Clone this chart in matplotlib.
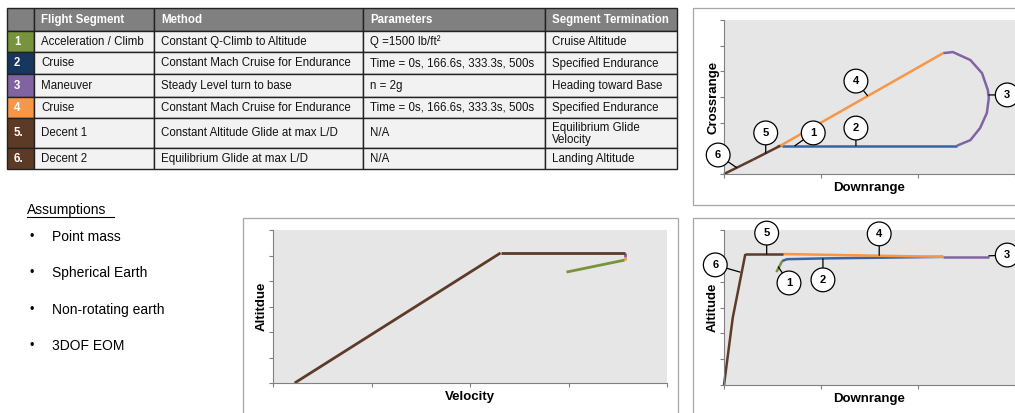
import matplotlib

matplotlib.use("Agg")
import matplotlib.pyplot as plt  # noqa: E402
from matplotlib.patches import Rectangle  # noqa: E402

plt.rcParams["font.family"] = ["Liberation Sans", "DejaVu Sans"]

W, H = 1015, 413

# ---- table data ----
table_header = ["", "Flight Segment", "Method", "Parameters", "Segment Termination"]
seg_numbers = ["1", "2", "3", "4", "5.", "6."]
seg_names = ["Acceleration / Climb", "Cruise", "Maneuver", "Cruise", "Decent 1", "Decent 2"]
seg_methods = [
    "Constant Q-Climb to Altitude",
    "Constant Mach Cruise for Endurance",
    "Steady Level turn to base",
    "Constant Mach Cruise for Endurance",
    "Constant Altitude Glide at max L/D",
    "Equilibrium Glide at max L/D",
]
seg_params = [
    "Q =1500 lb/ft²",
    "Time = 0s, 166.6s, 333.3s, 500s",
    "n = 2g",
    "Time = 0s, 166.6s, 333.3s, 500s",
    "N/A",
    "N/A",
]
seg_terms = [
    "Cruise Altitude",
    "Specified Endurance",
    "Heading toward Base",
    "Specified Endurance",
    "Equilibrium Glide\nVelocity",
    "Landing Altitude",
]
seg_colors = ["#77933c", "#17375e", "#8064a2", "#f79646", "#5c3a26", "#5c3a26"]
line_colors = ["#77933c", "#3a64a0", "#8064a2", "#f79646", "#5e3b29", "#5e3b29"]

assumptions = ["Point mass", "Spherical Earth", "Non-rotating earth", "3DOF EOM"]

# ---- ground track (crossrange vs downrange), segments 1..6 ----
ground_x = [
    [0.55, 0.60],
    [0.60, 2.40],
    [2.40, 2.54, 2.64, 2.71, 2.73, 2.72, 2.66, 2.54, 2.36, 2.26],
    [2.26, 0.58],
    [0.58, 0.30],
    [0.30, 0.0],
]
ground_y = [
    [1.08, 1.10],
    [1.10, 1.10],
    [1.10, 1.32, 1.79, 2.38, 2.96, 3.27, 3.93, 4.44, 4.75, 4.71],
    [4.71, 1.10],
    [1.10, 0.56],
    [0.56, 0.0],
]

# ---- altitude vs downrange ----
alt_x = [
    [0.54, 0.60],
    [0.60, 0.65, 1.02, 2.26],
    [2.26, 2.73],
    [2.26, 0.61],
    [0.61, 0.22],
    [0.22, 0.09, 0.0],
]
alt_y = [
    [4.37, 4.80],
    [4.80, 4.87, 4.90, 4.96],
    [4.96, 4.96],
    [4.96, 5.07],
    [5.07, 5.07],
    [5.07, 2.60, 0.0],
]

# ---- altitude vs velocity ----
vel_x = [
    [2.98, 3.57],
    [3.57, 3.57],
    [3.57, 3.57],
    [3.57, 3.57],
    [3.57, 2.31],
    [2.31, 0.22],
]
vel_y = [
    [4.35, 4.82],
    [4.82, 4.84],
    [5.10, 4.95],
    [4.95, 4.82],
    [5.10, 5.10],
    [5.10, 0.0],
]

# callouts: label, circle centre, leader end
ground_callouts = [
    ("6", (-0.06, 0.74), (0.13, 0.25)),
    ("5", (0.43, 1.60), (0.43, 0.82)),
    ("1", (0.92, 1.60), (0.73, 1.10)),
    ("2", (1.36, 1.79), (1.36, 1.10)),
    ("4", (1.36, 3.62), (1.48, 3.05)),
    ("3", (2.92, 3.08), (2.73, 3.08)),
]
alt_callouts = [
    ("5", (0.44, 5.88), (0.44, 5.07)),
    ("4", (1.60, 5.85), (1.60, 5.02)),
    ("3", (2.92, 5.03), (2.73, 5.0)),
    ("6", (-0.09, 4.65), (0.165, 4.37)),
    ("1", (0.67, 3.95), (0.56, 4.57)),
    ("2", (1.02, 4.07), (1.02, 4.89)),
]


def px_axes(fig, x0, y0, x1, y1):
    return fig.add_axes([x0 / W, 1 - y1 / H, (x1 - x0) / W, (y1 - y0) / H])


def style_chart(ax, xlabel, ylabel, nx):
    ax.set_facecolor("#e6e6e6")
    ax.set_xlim(0, nx)
    ax.set_ylim(0, 6)
    ax.set_xticks(range(nx + 1))
    ax.set_yticks(range(7))
    ax.set_xticklabels([])
    ax.set_yticklabels([])
    ax.tick_params(direction="out", length=3, color="#808080", width=0.8)
    for s in ("top", "right"):
        ax.spines[s].set_visible(False)
    for s in ("left", "bottom"):
        ax.spines[s].set_color("#808080")
        ax.spines[s].set_linewidth(0.8)
    ax.set_xlabel(xlabel, fontsize=9.5, fontweight="bold", labelpad=-1)
    ax.set_ylabel(ylabel, fontsize=9.5, fontweight="bold", labelpad=-3)


def draw_segments(ax, xs, ys, lw=1.8):
    for x, y, c in zip(xs, ys, line_colors):
        ax.plot(x, y, color=c, lw=lw, solid_capstyle="butt", clip_on=False)


def draw_callouts(ax, callouts):
    for label, centre, tip in callouts:
        ax.annotate(
            label, xy=tip, xytext=centre, ha="center", va="center",
            fontsize=8, fontweight="bold", annotation_clip=False, zorder=5,
            bbox=dict(boxstyle="circle,pad=0.62", fc="white", ec="black", lw=0.9),
            arrowprops=dict(arrowstyle="-", color="black", lw=0.9, shrinkA=0, shrinkB=0),
        )


fig = plt.figure(figsize=(W / 100, H / 100), dpi=100)

# background "slide" layer for table, text and frames
bg = fig.add_axes([0, 0, 1, 1], zorder=0)
bg.set_xlim(0, W)
bg.set_ylim(H, 0)
bg.axis("off")

col_edges = [7, 34, 154, 363, 545, 677]
row_edges = [8, 30.5, 52, 74, 96.5, 118, 148, 169]
rows = [table_header] + [
    [n, a, b, c, d] for n, a, b, c, d in zip(seg_numbers, seg_names, seg_methods, seg_params, seg_terms)
]
for r, row in enumerate(rows):
    y0, y1 = row_edges[r], row_edges[r + 1]
    for c, txt in enumerate(row):
        x0, x1 = col_edges[c], col_edges[c + 1]
        if r == 0:
            fc, tc, fw = "#808080", "white", "bold"
        elif c == 0:
            fc, tc, fw = seg_colors[r - 1], "white", "bold"
        else:
            fc, tc, fw = "#f2f2f2", "#111111", "normal"
        bg.add_patch(Rectangle((x0, y0), x1 - x0, y1 - y0, fc=fc, ec="#222222", lw=1.0))
        bg.text(x0 + 7, (y0 + y1) / 2 + 0.5, txt, ha="left", va="center",
                fontsize=8.3, color=tc, fontweight=fw, linespacing=1.0)

bg.text(27, 210, "Assumptions", fontsize=10, ha="left", va="center")
bg.plot([27, 114], [217, 217], color="black", lw=0.8)
for i, item in enumerate(assumptions):
    yy = 237 + i * 36.3
    bg.text(30, yy, "•", fontsize=9, ha="left", va="center")
    bg.text(52, yy, item, fontsize=10, ha="left", va="center")

for x0, y0, w, h in [(693, 8, 330, 197), (693, 218, 330, 200), (243, 218, 435, 200)]:
    bg.add_patch(Rectangle((x0, y0), w, h, fc="white", ec="#a6a6a6", lw=0.9))

# crossrange vs downrange
ax1 = px_axes(fig, 724, 20, 1015, 174)
style_chart(ax1, "Downrange", "Crossrange", 3)
draw_segments(ax1, ground_x, ground_y)
draw_callouts(ax1, ground_callouts)

# altitude vs downrange
ax2 = px_axes(fig, 724, 230, 1015, 385)
style_chart(ax2, "Downrange", "Altitude", 3)
draw_segments(ax2, alt_x, alt_y)
draw_callouts(ax2, alt_callouts)

# altitude vs velocity
ax3 = px_axes(fig, 273, 230, 667, 383)
style_chart(ax3, "Velocity", "Altitdue", 4)
draw_segments(ax3, vel_x, vel_y, lw=2.0)

fig.savefig("out.png", dpi=100)
